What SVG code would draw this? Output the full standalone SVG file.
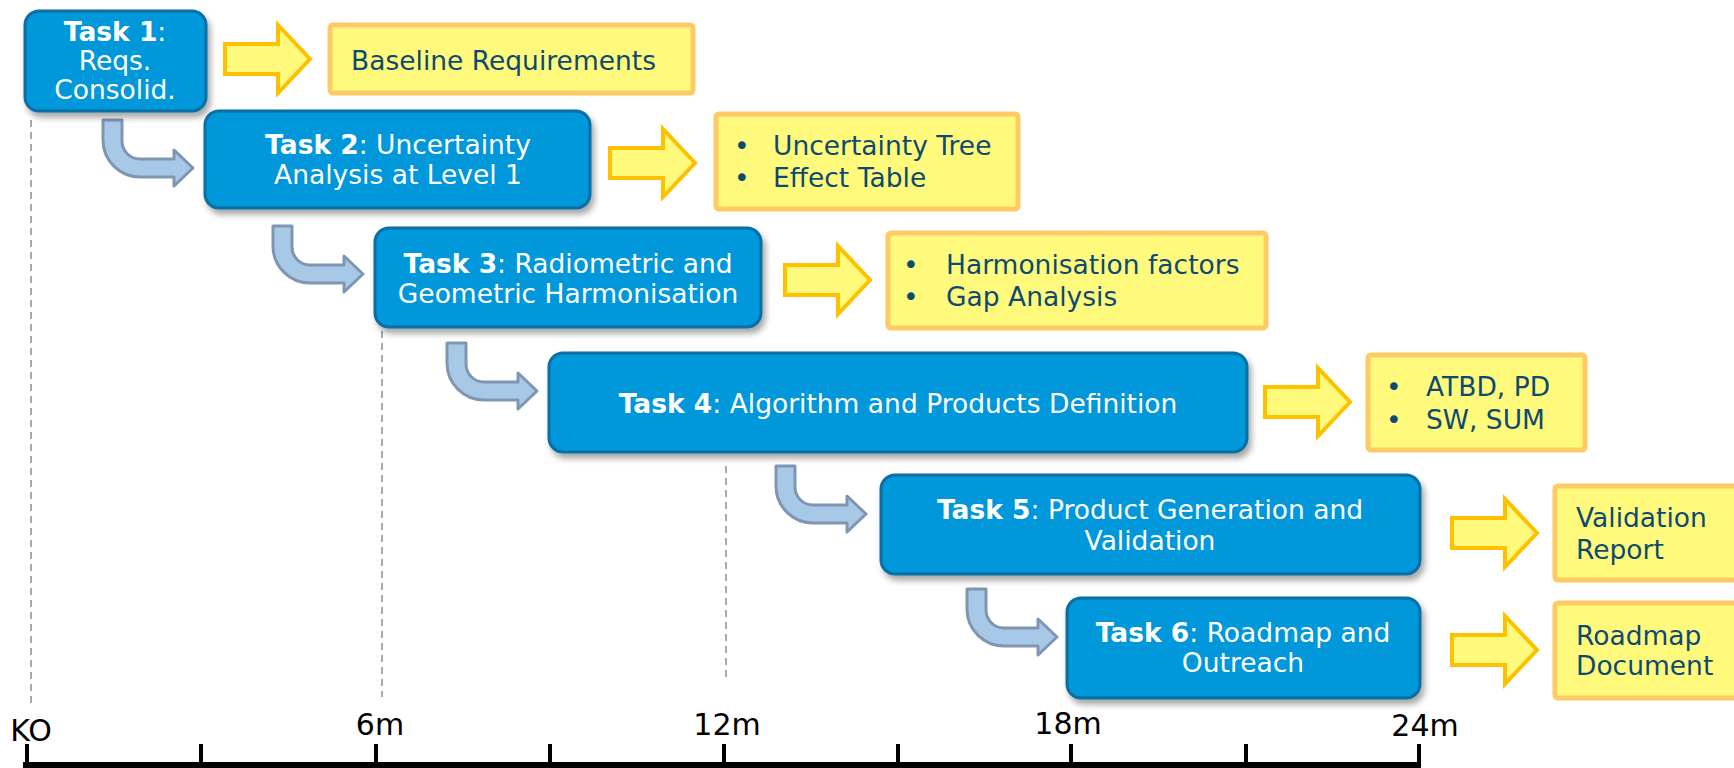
<svg xmlns="http://www.w3.org/2000/svg" width="1734" height="768" viewBox="0 0 1734 768">
<defs>
<filter id="sh" x="-10%" y="-10%" width="125%" height="135%">
<feDropShadow dx="3" dy="5" stdDeviation="3" flood-color="#000" flood-opacity="0.35"/>
</filter>
<path id="yarrow" d="M0,-15 H53 V-34 L85,0 L53,34 V15 H0 Z"/>
<path id="barrow" d="M0,0 H19 V21 A18,18 0 0 0 37,39 H71 V30 L90,48 L71,66 V57 H37 A37,37 0 0 1 0,20 Z"/>
</defs>
<style>
.task{fill:#0098DA;stroke:#0A6EA3;stroke-width:3;filter:url(#sh)}
.tt{font-family:"DejaVu Sans",Verdana,sans-serif;font-size:26.5px;fill:#fff;text-anchor:middle}
.b{font-weight:bold}
.out{fill:#FFFA7C;stroke:#FFCA66;stroke-width:5}
.ot{font-family:"DejaVu Sans",Verdana,sans-serif;font-size:26.5px;fill:#0E4A70}
.ya{fill:#FFFA7C;stroke:#FFC000;stroke-width:4;stroke-linejoin:miter}
.ba{fill:#A8C8E8;stroke:#7F96B2;stroke-width:3;stroke-linejoin:round}
.dash{stroke:#7A7A7A;stroke-width:1.3;stroke-dasharray:7 5;fill:none}
.tick{stroke:#000;stroke-width:4}
.tl{font-family:"DejaVu Sans",Verdana,sans-serif;font-size:30px;fill:#000;text-anchor:middle}
</style>
<rect width="1734" height="768" fill="#fff"/>

<g id="timeline">
<line class="dash" x1="31" y1="120" x2="31" y2="703"/>
<line class="dash" x1="382" y1="331" x2="382" y2="697"/>
<line class="dash" x1="726" y1="466" x2="726" y2="677"/>
<rect x="23" y="762" width="1398" height="6" fill="#000"/>
<line class="tick" x1="27" y1="744" x2="27" y2="763"/>
<line class="tick" x1="201" y1="744" x2="201" y2="763"/>
<line class="tick" x1="376" y1="744" x2="376" y2="763"/>
<line class="tick" x1="550" y1="744" x2="550" y2="763"/>
<line class="tick" x1="724" y1="744" x2="724" y2="763"/>
<line class="tick" x1="898" y1="744" x2="898" y2="763"/>
<line class="tick" x1="1071" y1="744" x2="1071" y2="763"/>
<line class="tick" x1="1246" y1="744" x2="1246" y2="763"/>
<line class="tick" x1="1419" y1="744" x2="1419" y2="763"/>
<text class="tl" x="31" y="741">KO</text>
<text class="tl" x="380" y="735">6m</text>
<text class="tl" x="727" y="735">12m</text>
<text class="tl" x="1068" y="734">18m</text>
<text class="tl" x="1425" y="736">24m</text>
</g>

<g id="connectors">
<use href="#barrow" class="ba" transform="translate(103,120)"/>
<use href="#barrow" class="ba" transform="translate(273,226)"/>
<use href="#barrow" class="ba" transform="translate(447,343)"/>
<use href="#barrow" class="ba" transform="translate(776,466)"/>
<use href="#barrow" class="ba" transform="translate(967,589)"/>
<use href="#yarrow" class="ya" transform="translate(225,59)"/>
<use href="#yarrow" class="ya" transform="translate(610,163)"/>
<use href="#yarrow" class="ya" transform="translate(785,280)"/>
<use href="#yarrow" class="ya" transform="translate(1265,402)"/>
<use href="#yarrow" class="ya" transform="translate(1452,533)"/>
<use href="#yarrow" class="ya" transform="translate(1452,650)"/>
</g>

<g id="task1">
<rect class="task" x="25" y="11" width="181" height="100" rx="14"/>
<text class="tt" x="115" y="41"><tspan class="b">Task 1</tspan>:</text>
<text class="tt" x="115" y="70">Reqs.</text>
<text class="tt" x="115" y="99">Consolid.</text>
</g>
<g id="task2">
<rect class="task" x="205" y="111" width="385" height="97" rx="14"/>
<text class="tt" x="398" y="154"><tspan class="b">Task 2</tspan>: Uncertainty</text>
<text class="tt" x="398" y="184">Analysis at Level 1</text>
</g>
<g id="task3">
<rect class="task" x="375" y="228" width="386" height="99" rx="14"/>
<text class="tt" x="568" y="273"><tspan class="b">Task 3</tspan>: Radiometric and</text>
<text class="tt" x="568" y="303">Geometric Harmonisation</text>
</g>
<g id="task4">
<rect class="task" x="549" y="353" width="698" height="99" rx="14"/>
<text class="tt" x="898" y="413"><tspan class="b">Task 4</tspan>: Algorithm and Products Definition</text>
</g>
<g id="task5">
<rect class="task" x="881" y="475" width="539" height="99" rx="14"/>
<text class="tt" x="1150" y="519"><tspan class="b">Task 5</tspan>: Product Generation and</text>
<text class="tt" x="1150" y="550">Validation</text>
</g>
<g id="task6">
<rect class="task" x="1067" y="598" width="353" height="100" rx="14"/>
<text class="tt" x="1243" y="642"><tspan class="b">Task 6</tspan>: Roadmap and</text>
<text class="tt" x="1243" y="672">Outreach</text>
</g>

<g id="out1">
<rect class="out" x="330" y="25" width="363" height="68" rx="3"/>
<text class="ot" x="351" y="70">Baseline Requirements</text>
</g>
<g id="out2">
<rect class="out" x="716" y="114" width="302" height="95" rx="3"/>
<text class="ot" x="734" y="155">•</text><text class="ot" x="773" y="155">Uncertainty Tree</text>
<text class="ot" x="734" y="187">•</text><text class="ot" x="773" y="187">Effect Table</text>
</g>
<g id="out3">
<rect class="out" x="888" y="233" width="378" height="95" rx="3"/>
<text class="ot" x="903" y="274">•</text><text class="ot" x="946" y="274">Harmonisation factors</text>
<text class="ot" x="903" y="306">•</text><text class="ot" x="946" y="306">Gap Analysis</text>
</g>
<g id="out4">
<rect class="out" x="1368" y="355" width="217" height="95" rx="3"/>
<text class="ot" x="1386" y="396">•</text><text class="ot" x="1426" y="396">ATBD, PD</text>
<text class="ot" x="1386" y="429">•</text><text class="ot" x="1426" y="429">SW, SUM</text>
</g>
<g id="out5">
<rect class="out" x="1555" y="486" width="190" height="94" rx="3"/>
<text class="ot" x="1576" y="527">Validation</text>
<text class="ot" x="1576" y="559">Report</text>
</g>
<g id="out6">
<rect class="out" x="1555" y="603" width="190" height="95" rx="3"/>
<text class="ot" x="1576" y="645">Roadmap</text>
<text class="ot" x="1576" y="675">Document</text>
</g>
</svg>
